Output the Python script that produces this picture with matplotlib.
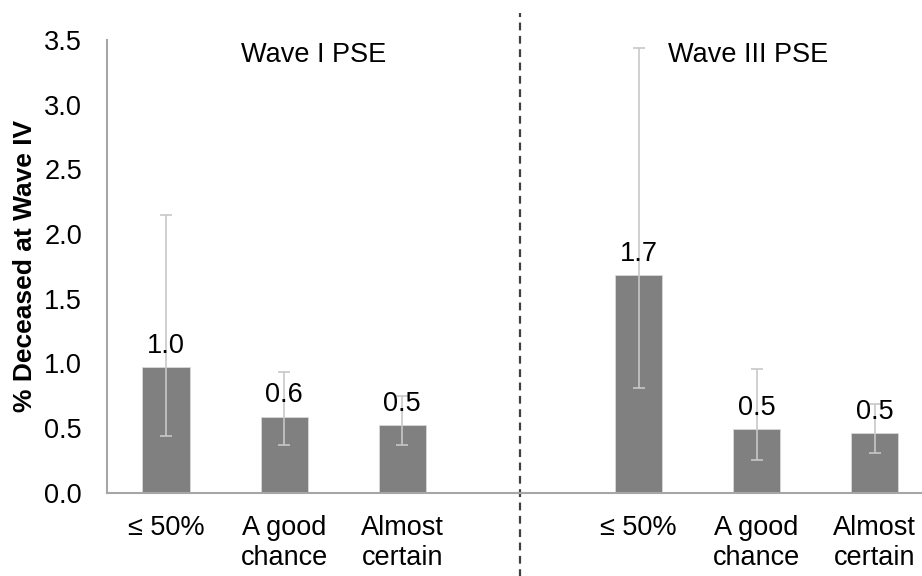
import matplotlib
matplotlib.use("Agg")
import matplotlib.pyplot as plt
import numpy as np

plt.rcParams['font.family'] = ['Liberation Sans', 'DejaVu Sans']

# Data
categories = ["\u2264 50%", "A good\nchance", "Almost\ncertain",
              "\u2264 50%", "A good\nchance", "Almost\ncertain"]
positions = [0, 1, 2, 4, 5, 6]
values = [0.97, 0.585, 0.52, 1.68, 0.49, 0.46]
value_labels = ["1.0", "0.6", "0.5", "1.7", "0.5", "0.5"]
ci_low = [0.44, 0.37, 0.37, 0.81, 0.25, 0.31]
ci_high = [2.15, 0.93, 0.75, 3.44, 0.96, 0.685]
group_titles = ["Wave I PSE", "Wave III PSE"]
y_ticks = [0.0, 0.5, 1.0, 1.5, 2.0, 2.5, 3.0, 3.5]

FS = 19.5

fig = plt.figure(figsize=(9.22, 5.76), dpi=100)
W, H = 922, 576
ax = fig.add_axes([107 / W, (H - 492.7) / H, (922 - 107) / W, (492.7 - 40) / H])

vals = np.array(values)
err = np.vstack([vals - np.array(ci_low), np.array(ci_high) - vals])

ax.bar(positions, values, width=0.4, color="#808080", edgecolor="#d9d9d9",
       linewidth=0.6, zorder=2)
ax.errorbar(positions, values, yerr=err, fmt="none", ecolor="#c8c8c8",
            elinewidth=1.2, capsize=4.5, capthick=1.2, zorder=3)

for p, v, lab in zip(positions, values, value_labels):
    ax.annotate(lab, (p, v), xytext=(0, 10.5), textcoords="offset points",
                ha="center", va="baseline", fontsize=FS, color="#000000", zorder=4)

ax.set_xlim(-0.5, 6.4)
ax.set_ylim(0, 3.5)
ax.set_yticks(y_ticks)
ax.set_yticklabels([f"{t:.1f}" for t in y_ticks])
ax.set_xticks(positions)
ax.set_xticklabels(categories)
ax.tick_params(axis="both", length=0, labelsize=FS, colors="#000000")
ax.tick_params(axis="y", pad=18)
ax.tick_params(axis="x", pad=16)

for s in ["top", "right"]:
    ax.spines[s].set_visible(False)
for s in ["left", "bottom"]:
    ax.spines[s].set_color("#a6a6a6")
    ax.spines[s].set_linewidth(1.5)

ax.set_ylabel("% Deceased at Wave IV", fontsize=19, fontweight="bold", labelpad=5)

ax.text(1.25, 3.385, group_titles[0], ha="center", va="center", fontsize=FS)
ax.text(4.93, 3.385, group_titles[1], ha="center", va="center", fontsize=FS)

# group separator
ax.plot([3, 3], [-0.65, 3.71], linestyle=(0, (3.5, 2.5)), color="#404040",
        linewidth=1.6, clip_on=False, zorder=1)

fig.savefig("out.png", dpi=100)
